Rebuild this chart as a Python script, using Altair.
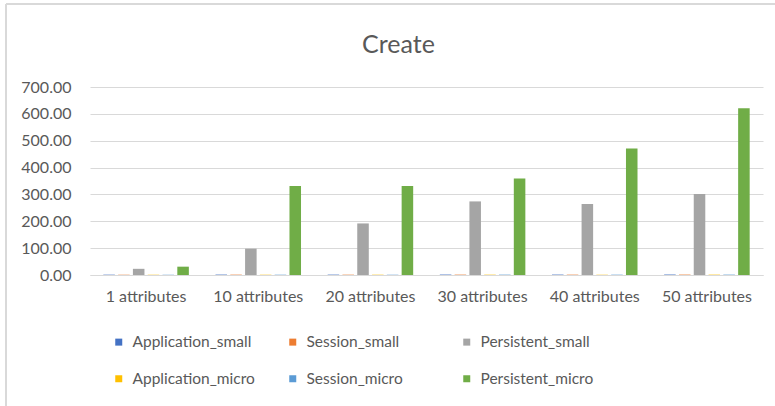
import altair as alt
import pandas as pd

# Categories on the x axis
categories = ["1 attributes", "10 attributes", "20 attributes",
              "30 attributes", "40 attributes", "50 attributes"]

# Series names, in legend / cluster order
series = ["Application_small", "Session_small", "Persistent_small",
          "Application_micro", "Session_micro", "Persistent_micro"]

# Values per series (one per category)
application_small = [1.2, 1.5, 1.4, 1.6, 1.5, 1.7]
session_small = [1.0, 1.3, 1.2, 1.4, 1.3, 1.5]
persistent_small = [23.0, 98.0, 192.0, 274.0, 264.0, 302.0]
application_micro = [0.8, 1.0, 1.1, 1.2, 1.1, 1.3]
session_micro = [0.9, 1.1, 1.0, 1.3, 1.2, 1.4]
persistent_micro = [31.0, 331.0, 331.0, 359.0, 471.0, 621.0]

colors = ["#4472C4", "#ED7D31", "#A5A5A5", "#FFC000", "#5B9BD5", "#70AD47"]

values = [application_small, session_small, persistent_small,
          application_micro, session_micro, persistent_micro]

rows = []
for name, vals in zip(series, values):
    for cat, v in zip(categories, vals):
        rows.append({"category": cat, "series": name, "value": v})
df = pd.DataFrame(rows)

FONT = "Lato"
TEXT = "#595959"
GRID = "#D9D9D9"

bars = alt.Chart(df).mark_bar().encode(
    x=alt.X("category:N", sort=categories, title=None,
            scale=alt.Scale(paddingInner=0, paddingOuter=0),
            axis=alt.Axis(labelAngle=0, ticks=False, domain=True,
                          domainColor=GRID, labelPadding=13,
                          labelFontSize=16, labelColor=TEXT, labelFont=FONT,
                          grid=False)),
    xOffset=alt.XOffset("series:N", sort=series,
                        scale=alt.Scale(paddingInner=0.22, paddingOuter=0.9)),
    y=alt.Y("value:Q", title=None,
            scale=alt.Scale(domain=[0, 700], nice=False),
            axis=alt.Axis(values=[0, 100, 200, 300, 400, 500, 600, 700],
                          format=".2f", ticks=False, domain=False,
                          gridColor=GRID, gridWidth=1, labelPadding=19,
                          labelFontSize=16, labelColor=TEXT, labelFont=FONT)),
    color=alt.Color("series:N", sort=series,
                    scale=alt.Scale(domain=series, range=colors),
                    legend=alt.Legend(title=None, orient="none",
                                      direction="horizontal",
                                      legendX=21, legendY=247,
                                      columns=3, gridAlign="all",
                                      columnPadding=30, rowPadding=20,
                                      symbolType="square", symbolSize=49,
                                      symbolStrokeWidth=0, labelOffset=6,
                                      labelFontSize=15.5, labelColor=TEXT,
                                      labelFont=FONT)),
)

# Chart-area frame (left and top edges)
frame_left = alt.Chart(df).mark_rule(color=GRID, strokeWidth=1.5).encode(
    x=alt.value(-84), y=alt.value(-83), y2=alt.value(330))
frame_top = alt.Chart(df).mark_rule(color=GRID, strokeWidth=1.5).encode(
    x=alt.value(-84), x2=alt.value(700), y=alt.value(-83))

chart = alt.layer(bars, frame_left, frame_top).properties(
    width=673,
    height=188,
    autosize=alt.AutoSizeParams(type="none"),
    padding={"left": 90, "top": 87, "right": 12, "bottom": 131},
    title=alt.TitleParams("Create", fontSize=25, fontWeight="normal",
                          color=TEXT, font=FONT, anchor="middle",
                          frame="group", dx=-28, offset=-55),
).configure_view(stroke=None)

chart.save("out.html", embed_options={"renderer": "svg", "actions": False})
